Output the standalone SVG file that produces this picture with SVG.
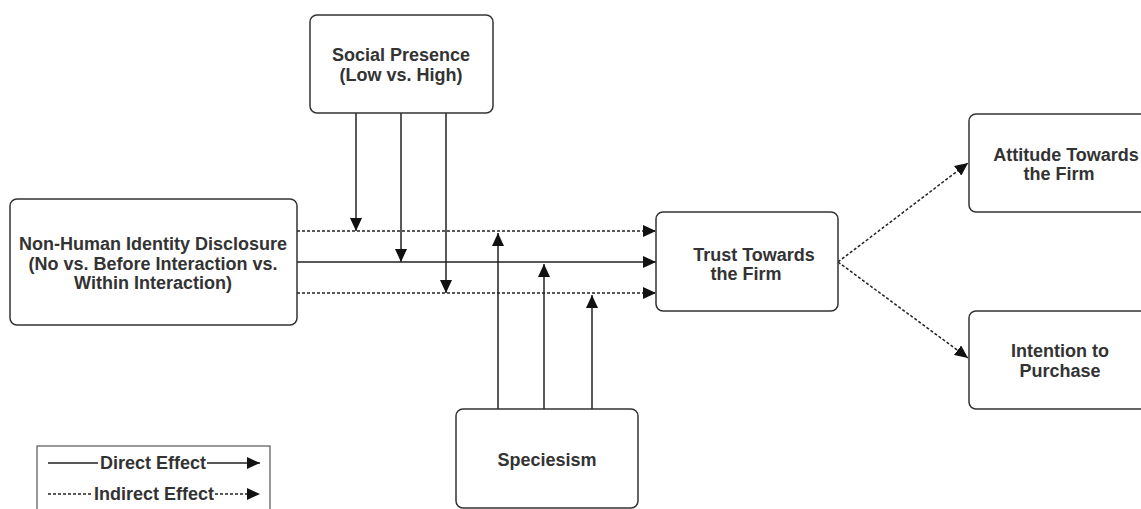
<svg xmlns="http://www.w3.org/2000/svg" width="1141" height="509" viewBox="0 0 1141 509">
<defs>
<marker id="ah" viewBox="0 0 13 12" refX="13" refY="6" markerWidth="13" markerHeight="12" markerUnits="userSpaceOnUse" orient="auto">
<path d="M0,0 L13,6 L0,12 Z" fill="#111"/>
</marker>
<style>
.box{fill:#fff;stroke:#333;stroke-width:1.5}
.t{font-family:"Liberation Sans",Arial,sans-serif;font-weight:bold;font-size:18px;fill:#333;text-anchor:middle}
.s{stroke:#222;stroke-width:1.5;fill:none}
.d{stroke:#222;stroke-width:1.5;fill:none;stroke-dasharray:3 2}
</style>
</defs>
<rect width="1141" height="509" fill="#fff"/>
<g id="connectors">
<line class="d" x1="297" y1="231" x2="656" y2="231" marker-end="url(#ah)"/>
<line class="s" x1="297" y1="262" x2="656" y2="262" marker-end="url(#ah)"/>
<line class="d" x1="297" y1="293" x2="656" y2="293" marker-end="url(#ah)"/>
<line class="s" x1="356" y1="113" x2="356" y2="231" marker-end="url(#ah)"/>
<line class="s" x1="401" y1="113" x2="401" y2="262" marker-end="url(#ah)"/>
<line class="s" x1="446" y1="113" x2="446" y2="293" marker-end="url(#ah)"/>
<line class="s" x1="498" y1="409" x2="498" y2="233" marker-end="url(#ah)"/>
<line class="s" x1="544" y1="409" x2="544" y2="264" marker-end="url(#ah)"/>
<line class="s" x1="592" y1="409" x2="592" y2="295" marker-end="url(#ah)"/>
<line class="d" x1="838" y1="262" x2="968" y2="163" marker-end="url(#ah)"/>
<line class="d" x1="838" y1="262" x2="968" y2="358" marker-end="url(#ah)"/>
</g>
<g id="nonhuman">
<rect class="box" x="10" y="199" width="287" height="126" rx="7"/>
<text class="t" x="153" y="250">Non-Human Identity Disclosure</text>
<text class="t" x="153" y="270">(No vs. Before Interaction vs.</text>
<text class="t" x="153" y="289">Within Interaction)</text>
</g>
<g id="social">
<rect class="box" x="310" y="15" width="183" height="98" rx="7"/>
<text class="t" x="401" y="61">Social Presence</text>
<text class="t" x="401" y="81">(Low vs. High)</text>
</g>
<g id="speciesism">
<rect class="box" x="456" y="409" width="182" height="99" rx="7"/>
<text class="t" x="547" y="466">Speciesism</text>
</g>
<g id="trust">
<rect class="box" x="656" y="212" width="182" height="99" rx="7"/>
<text class="t" x="754" y="261">Trust Towards</text>
<text class="t" x="746" y="280">the Firm</text>
</g>
<g id="attitude">
<rect class="box" x="969" y="114" width="190" height="98" rx="7"/>
<text class="t" x="1066" y="161">Attitude Towards</text>
<text class="t" x="1059" y="180">the Firm</text>
</g>
<g id="intention">
<rect class="box" x="969" y="311" width="190" height="98" rx="7"/>
<text class="t" x="1060" y="357">Intention to</text>
<text class="t" x="1060" y="377">Purchase</text>
</g>
<g id="legend">
<rect x="37" y="446" width="233" height="80" fill="#fff" stroke="#555" stroke-width="1.2"/>
<line class="s" x1="48" y1="463" x2="98" y2="463"/>
<text class="t" x="153" y="469">Direct Effect</text>
<line class="s" x1="207" y1="463" x2="260" y2="463" marker-end="url(#ah)"/>
<line class="d" x1="48" y1="494" x2="93" y2="494"/>
<text class="t" x="154" y="500">Indirect Effect</text>
<line class="d" x1="215" y1="494" x2="260" y2="494" marker-end="url(#ah)"/>
</g>
</svg>
